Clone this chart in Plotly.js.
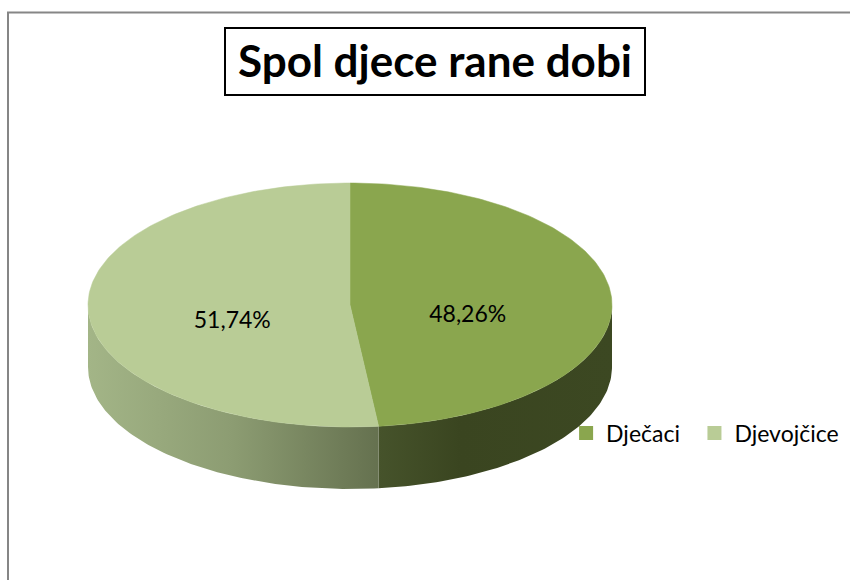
<!DOCTYPE html>
<html>
<head>
<meta charset="utf-8">
<script src="https://cdn.plot.ly/plotly-3.0.1.min.js"></script>
<style>html,body{margin:0;padding:0;background:#fff;}#chart{width:850px;height:580px;}</style>
</head>
<body>
<div id="chart"></div>
<script>
// ---- data ----
const categories = ["Dječaci", "Djevojčice"];
const values = [48.26, 51.74];
const chartTitle = "Spol djece rane dobi";

// ---- style ----
const topColors = ["#8aa64e", "#b9cc96"];
const sideScales = [
  [[0, "#46532b"], [0.35, "#3a4520"], [1, "#3c4822"]],
  [[0, "#a3b587"], [0.5, "#8c9c72"], [1, "#65714f"]]
];
const geom = {cx: 350, cy: 305, rx: 262, ry: 122, depth: 62};
const FONT = "Lato, 'Noto Sans', sans-serif";
const legendIds = ["legend", "legend2"];
const legendX = [0.666, 0.817];

function pt(deg, dy) {
  const t = deg * Math.PI / 180;
  return [geom.cx + geom.rx * Math.sin(t), geom.cy - geom.ry * Math.cos(t) + (dy || 0)];
}
function arc(a, b, dy) {
  const pts = [];
  const n = Math.max(2, Math.ceil(Math.abs(b - a) / 1));
  for (let i = 0; i <= n; i++) pts.push(pt(a + (b - a) * i / n, dy));
  return pts;
}

const total = values.reduce((s, v) => s + v, 0);
const traces = [];
const tops = [];
const labels = [];
let start = 0;
values.forEach((v, i) => {
  const sweep = 360 * v / total;
  const a = start, b = start + sweep;
  // side (visible front half: 90..270)
  const sa = Math.max(a, 90), sb = Math.min(b, 270);
  if (sb > sa) {
    const topEdge = arc(sa, sb, 0);
    const botEdge = arc(sb, sa, geom.depth);
    const poly = topEdge.concat(botEdge);
    traces.push({
      type: "scatter", mode: "lines",
      x: poly.map(p => p[0]), y: poly.map(p => p[1]),
      fill: "toself", line: {width: 0, color: topColors[i]},
      fillgradient: {type: "horizontal", colorscale: sideScales[i]},
      hoverinfo: "skip", showlegend: false
    });
  }
  // top face
  const poly = [[geom.cx, geom.cy]].concat(arc(a, b, 0));
  poly.push([geom.cx, geom.cy]);
  tops.push({
    type: "scatter", mode: "lines",
    x: poly.map(p => p[0]), y: poly.map(p => p[1]),
    fill: "toself", fillcolor: topColors[i],
    line: {width: 0.5, color: topColors[i]},
    hoverinfo: "skip", showlegend: false
  });
  const mid = (a + b) / 2;
  const t = mid * Math.PI / 180;
  labels.push({
    x: geom.cx + 0.45 * geom.rx * Math.sin(t),
    y: geom.cy - 0.45 * geom.ry * Math.cos(t) + 14,
    text: v.toFixed(2).replace(".", ",") + "%"
  });
  start = b;
});

traces.push(...tops);
traces.push({
  type: "scatter", mode: "text",
  x: labels.map(l => l.x), y: labels.map(l => l.y),
  text: labels.map(l => l.text),
  textfont: {family: FONT, size: 23, color: "#000"},
  hoverinfo: "skip", showlegend: false
});
categories.forEach((c, i) => {
  traces.push({
    type: "scatter", mode: "markers", name: c,
    x: [null], y: [null],
    marker: {symbol: "square", size: 14, color: topColors[i]},
    legend: legendIds[i],
    hoverinfo: "skip", showlegend: true
  });
});

const layout = {
  width: 850, height: 580,
  margin: {l: 0, r: 0, t: 0, b: 0, autoexpand: false},
  paper_bgcolor: "#fff", plot_bgcolor: "#fff",
  xaxis: {range: [0, 850], visible: false, fixedrange: true},
  yaxis: {range: [580, 0], visible: false, fixedrange: true},
  title: {
    text: "<b>" + chartTitle + "</b>",
    x: 435 / 850, xanchor: "center", xref: "paper",
    y: 1 - 62 / 580, yanchor: "middle", yref: "paper",
    font: {family: FONT, size: 44, color: "#000"}
  },
  shapes: [
    {type: "rect", xref: "paper", yref: "paper",
     x0: 8 / 850, x1: 1.02, y0: -0.02, y1: 1 - 12.5 / 580,
     line: {color: "#868686", width: 2}, fillcolor: "rgba(0,0,0,0)", layer: "below"},
    {type: "rect", xref: "paper", yref: "paper",
     x0: 225 / 850, x1: 645 / 850, y0: 1 - 95 / 580, y1: 1 - 28 / 580,
     line: {color: "#000", width: 2}, fillcolor: "rgba(0,0,0,0)"}
  ],
  hovermode: false,
  showlegend: true
};
legendIds.forEach((id, i) => {
  layout[id] = {
    orientation: "h", x: legendX[i], xanchor: "left", y: 1 - 433 / 580, yanchor: "middle",
    font: {family: FONT, size: 23, color: "#000"},
    bgcolor: "rgba(0,0,0,0)"
  };
});

Plotly.newPlot("chart", traces, layout, {displayModeBar: false, staticPlot: true});
</script>
</body>
</html>
